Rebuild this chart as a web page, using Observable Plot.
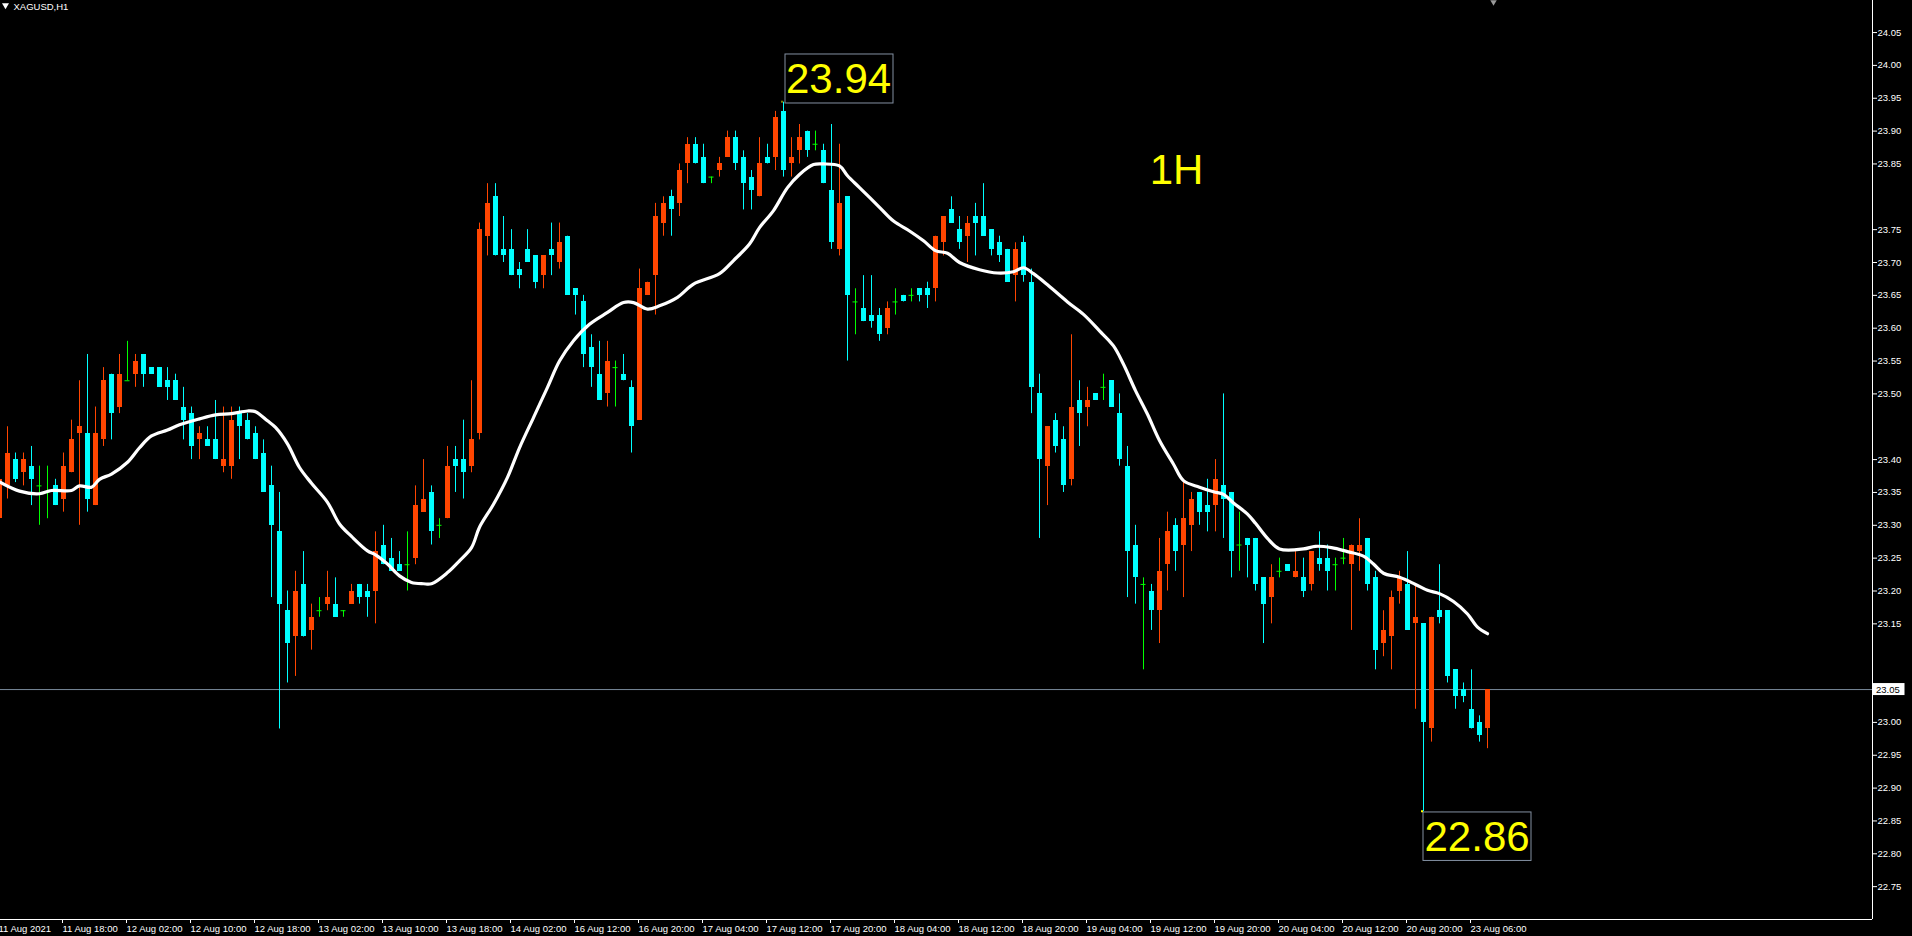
<!DOCTYPE html>
<html><head><meta charset="utf-8">
<script src="https://cdn.jsdelivr.net/npm/d3@7"></script>
<script src="https://cdn.jsdelivr.net/npm/@observablehq/plot@0.6"></script>
<style>
html,body{margin:0;padding:0;background:#000;overflow:hidden;}
#chart svg{display:block;}
</style></head><body><div id="chart"></div>
<script>
// ---- data: hourly XAGUSD bars, index -1 .. 185 ----
const opens = [23.31,
23.36,23.40,23.38,23.39,23.36,23.35,23.36,23.34,23.38,23.44,
23.44,23.33,23.43,23.53,23.48,23.52,23.53,23.56,23.54,23.54,
23.52,23.52,23.48,23.47,23.43,23.43,23.43,23.39,23.39,23.47,
23.46,23.44,23.41,23.36,23.29,23.17,23.13,23.21,23.14,23.17,
23.18,23.18,23.17,23.18,23.21,23.20,23.20,23.27,23.25,23.24,
23.24,23.25,23.32,23.35,23.30,23.31,23.40,23.40,23.39,23.44,
23.74,23.80,23.72,23.72,23.69,23.72,23.71,23.68,23.72,23.70,
23.74,23.66,23.64,23.57,23.53,23.50,23.54,23.53,23.51,23.46,
23.65,23.68,23.76,23.80,23.79,23.85,23.88,23.86,23.83,23.84,
23.86,23.89,23.86,23.83,23.80,23.86,23.86,23.93,23.85,23.87,
23.90,23.88,23.87,23.81,23.72,23.80,23.64,23.63,23.62,23.62,
23.60,23.64,23.65,23.65,23.66,23.66,23.66,23.73,23.78,23.75,
23.74,23.77,23.77,23.75,23.73,23.72,23.68,23.73,23.67,23.50,
23.39,23.46,23.43,23.37,23.49,23.48,23.50,23.51,23.52,23.47,
23.39,23.27,23.21,23.20,23.17,23.24,23.30,23.27,23.30,23.35,
23.33,23.33,23.36,23.35,23.27,23.28,23.28,23.22,23.19,23.23,
23.24,23.22,23.22,23.21,23.25,23.25,23.24,23.25,23.24,23.26,
23.28,23.22,23.12,23.13,23.20,23.21,23.15,23.15,22.99,23.17,
23.17,23.08,23.05,23.02,23.00,22.99];

const highs = [23.43,
23.45,23.41,23.41,23.42,23.39,23.39,23.37,23.41,23.46,23.52,
23.56,23.48,23.54,23.53,23.56,23.58,23.56,23.56,23.54,23.54,
23.54,23.53,23.51,23.48,23.45,23.45,23.49,23.48,23.48,23.48,
23.47,23.45,23.43,23.39,23.35,23.20,23.23,23.26,23.18,23.19,
23.23,23.22,23.17,23.21,23.21,23.21,23.29,23.30,23.28,23.26,
23.29,23.36,23.40,23.36,23.31,23.42,23.42,23.46,23.52,23.76,
23.82,23.82,23.77,23.75,23.70,23.75,23.71,23.71,23.76,23.76,
23.74,23.66,23.65,23.59,23.58,23.58,23.55,23.56,23.52,23.69,
23.67,23.79,23.80,23.81,23.85,23.89,23.89,23.88,23.83,23.86,
23.90,23.90,23.87,23.84,23.89,23.88,23.93,23.944,23.89,23.91,
23.90,23.90,23.88,23.91,23.88,23.80,23.66,23.68,23.68,23.63,
23.64,23.66,23.65,23.66,23.66,23.67,23.74,23.77,23.80,23.77,
23.77,23.79,23.82,23.75,23.74,23.72,23.73,23.74,23.69,23.53,
23.45,23.47,23.45,23.59,23.52,23.51,23.50,23.53,23.52,23.50,
23.42,23.30,23.22,23.21,23.28,23.32,23.31,23.37,23.35,23.35,
23.37,23.40,23.50,23.35,23.32,23.28,23.28,23.22,23.24,23.25,
23.24,23.26,23.25,23.26,23.29,23.27,23.25,23.28,23.27,23.31,
23.28,23.23,23.17,23.20,23.23,23.26,23.21,23.15,23.16,23.24,
23.17,23.08,23.06,23.08,23.01,23.05];

const lows = [23.30,
23.34,23.365,23.36,23.33,23.30,23.31,23.33,23.32,23.38,23.30,
23.32,23.33,23.42,23.43,23.47,23.52,23.51,23.51,23.53,23.51,
23.49,23.49,23.43,23.40,23.40,23.42,23.40,23.38,23.37,23.40,
23.43,23.40,23.35,23.19,22.99,23.06,23.07,23.13,23.11,23.16,
23.17,23.16,23.16,23.18,23.18,23.16,23.15,23.24,23.23,23.23,
23.20,23.24,23.32,23.27,23.28,23.31,23.35,23.34,23.38,23.43,
23.71,23.71,23.70,23.68,23.66,23.70,23.66,23.66,23.68,23.69,
23.65,23.62,23.54,23.51,23.49,23.48,23.48,23.52,23.41,23.46,
23.65,23.62,23.74,23.74,23.77,23.82,23.85,23.82,23.82,23.83,
23.86,23.84,23.78,23.78,23.80,23.85,23.84,23.83,23.83,23.85,
23.86,23.87,23.82,23.72,23.71,23.55,23.59,23.61,23.60,23.58,
23.59,23.62,23.64,23.64,23.64,23.63,23.64,23.71,23.76,23.72,
23.70,23.71,23.74,23.71,23.70,23.67,23.64,23.67,23.47,23.28,
23.33,23.41,23.35,23.36,23.42,23.45,23.49,23.49,23.48,23.39,
23.19,23.18,23.08,23.14,23.12,23.20,23.23,23.19,23.26,23.30,
23.29,23.29,23.28,23.22,23.23,23.22,23.20,23.12,23.15,23.22,
23.23,23.22,23.19,23.20,23.23,23.20,23.20,23.24,23.14,23.23,
23.20,23.08,23.10,23.08,23.18,23.14,23.02,22.864,22.97,23.15,
23.06,23.02,23.03,22.99,22.97,22.96];

const closes = [23.37,
23.41,23.37,23.40,23.37,23.36,23.35,23.33,23.39,23.43,23.45,
23.34,23.44,23.52,23.47,23.53,23.52,23.55,23.53,23.53,23.51,
23.51,23.49,23.46,23.42,23.44,23.42,23.40,23.40,23.46,23.45,
23.43,23.40,23.35,23.30,23.18,23.12,23.20,23.13,23.16,23.17,
23.19,23.16,23.17,23.20,23.19,23.19,23.26,23.24,23.23,23.23,
23.24,23.33,23.34,23.29,23.30,23.39,23.39,23.38,23.43,23.75,
23.79,23.71,23.71,23.68,23.68,23.70,23.67,23.71,23.71,23.73,
23.65,23.65,23.56,23.54,23.49,23.55,23.54,23.52,23.45,23.66,
23.67,23.77,23.79,23.78,23.84,23.88,23.85,23.82,23.83,23.85,
23.89,23.85,23.82,23.81,23.85,23.85,23.92,23.84,23.86,23.89,
23.87,23.88,23.82,23.73,23.79,23.65,23.64,23.61,23.61,23.59,
23.63,23.64,23.64,23.65,23.65,23.65,23.74,23.77,23.76,23.73,
23.76,23.76,23.74,23.72,23.71,23.67,23.72,23.68,23.51,23.40,
23.45,23.42,23.36,23.48,23.47,23.49,23.49,23.51,23.48,23.40,
23.26,23.22,23.21,23.17,23.23,23.29,23.26,23.31,23.34,23.32,
23.32,23.37,23.34,23.26,23.27,23.27,23.21,23.18,23.22,23.23,
23.23,23.23,23.20,23.26,23.24,23.23,23.24,23.25,23.27,23.27,
23.21,23.11,23.14,23.19,23.22,23.14,23.16,23.00,23.16,23.16,
23.07,23.04,23.04,22.99,22.98,23.05];

// moving average line (bar position, value)
const maIdx = [-1,1.5,4,5.5,8,9,10.5,11.5,13,15,
16.5,18,20,21.5,24,26,28,30,31,32.5,
33.5,35,36.5,38,40,41.5,43,45,46,47.5,
49,50.5,52,53,55,56.5,58,59,60.75,62.5,
64,65.75,67.5,69,70.75,72.75,75,77,78.25,80,
81.5,83.75,85.75,89,90.75,92.75,94,95.75,97.5,99,
100.75,102,104,105,106.5,109,110.75,112.75,114.5,116,
117.5,119,121.5,123.75,125.75,127,128.25,130,132.5,134.5,
136.5,138.25,139.5,141,142.5,144,145.75,147,149,150.75,
152,153.25,155,156,157.5,159,162,163.5,165.5,167.5,
169.5,170.75,172,174,176,177.5,179,180.75,182.5,183.75,
185];
const maVal = [23.366,23.352,23.348,23.353,23.353,23.360,23.358,23.370,23.378,23.396,
23.418,23.436,23.445,23.453,23.462,23.468,23.470,23.474,23.473,23.459,
23.449,23.424,23.388,23.364,23.335,23.302,23.283,23.261,23.255,23.241,
23.223,23.213,23.211,23.211,23.228,23.246,23.266,23.297,23.332,23.373,
23.418,23.464,23.510,23.550,23.581,23.606,23.624,23.639,23.639,23.629,
23.634,23.647,23.667,23.683,23.703,23.728,23.753,23.779,23.814,23.834,
23.849,23.850,23.847,23.832,23.814,23.784,23.763,23.748,23.733,23.718,
23.714,23.700,23.689,23.684,23.686,23.692,23.683,23.666,23.640,23.621,
23.596,23.573,23.545,23.505,23.469,23.429,23.393,23.368,23.358,23.351,
23.347,23.334,23.317,23.303,23.280,23.264,23.264,23.268,23.266,23.260,
23.253,23.241,23.227,23.221,23.210,23.201,23.196,23.184,23.165,23.145,
23.135];

// axis ticks
const timeTickIdx = [-1,7,15,23,31,39,47,55,63,71,79,87,95,103,111,119,127,135,143,151,159,167,175,183];
const timeTickLabels = ["11 Aug 2021","11 Aug 18:00","12 Aug 02:00","12 Aug 10:00","12 Aug 18:00","13 Aug 02:00","13 Aug 10:00","13 Aug 18:00","14 Aug 02:00","16 Aug 12:00","16 Aug 20:00","17 Aug 04:00","17 Aug 12:00","17 Aug 20:00","18 Aug 04:00","18 Aug 12:00","18 Aug 20:00","19 Aug 04:00","19 Aug 12:00","19 Aug 20:00","20 Aug 04:00","20 Aug 12:00","20 Aug 20:00","23 Aug 06:00"];
const priceTicks = [24.05,24.00,23.95,23.90,23.85,23.75,23.70,23.65,23.60,23.55,23.50,23.40,23.35,23.30,23.25,23.20,23.15,23.00,22.95,22.90,22.85,22.80,22.75];
const symbolTitle = "XAGUSD,H1";
const frameLabel = "1H";

// ---- build ----
const BULL = "#ff4500", BEAR = "#00ffff", DOJI = "#00ff00";
const candles = opens.map((o, j) => ({k: j - 1, o, h: highs[j], l: lows[j], c: closes[j]}));
const col = d => d.c > d.o ? BULL : d.c < d.o ? BEAR : DOJI;
const bodies = candles.filter(d => d.c !== d.o);
const dojis = candles.filter(d => d.c === d.o);
const ma = maIdx.map((k, j) => ({k, v: maVal[j]}));
const labelMap = new Map(timeTickIdx.map((k, j) => [k, timeTickLabels[j]]));
const last = closes[closes.length - 1];
const hiV = d3.max(highs), loV = d3.min(lows);
const hiPt = [{k: highs.indexOf(hiV) - 1, v: hiV}];
const loPt = [{k: lows.indexOf(loV) - 1, v: loV}];
const lastPt = [{k: candles[candles.length - 1].k}];
const X0 = -0.875, X1 = 233.125;
const Y0 = 22.70, Y1 = 22.70 + 919 / 657;
const BOX = "#8390a2";
const FONT = "'Liberation Sans', Arial, sans-serif";

const chart = Plot.plot({
  width: 1912, height: 936,
  marginLeft: 0, marginRight: 40, marginTop: 0, marginBottom: 17,
  style: {background: "#000", color: "#fff", fontFamily: FONT, fontSize: "9.5px"},
  x: {type: "linear", domain: [X0, X1], label: null},
  y: {type: "linear", domain: [Y0, Y1], label: null},
  marks: [
    Plot.ruleY([last], {stroke: "#778899", strokeWidth: 1}),
    Plot.ruleX(candles, {x: "k", y1: "l", y2: "h", stroke: col, strokeWidth: 1}),
    Plot.rect(bodies, {x1: d => d.k - 0.3125, x2: d => d.k + 0.3125, y1: "o", y2: "c", fill: col, shapeRendering: "crispEdges"}),
    Plot.ruleY(dojis, {y: "o", x1: d => d.k - 0.3125, x2: d => d.k + 0.3125, stroke: DOJI}),
    Plot.line(ma, {x: "k", y: "v", stroke: "#fff", strokeWidth: 3.2, curve: "catmull-rom"}),
    // extremes annotations
    Plot.rect(hiPt, {x1: "k", x2: "k", y1: "v", y2: "v", insetLeft: 2, insetRight: -110, insetTop: -47.7, insetBottom: -1.3, fill: "none", stroke: BOX}),
    Plot.text(hiPt, {x: "k", y: "v", text: d => d.v.toFixed(2), dx: 2.5, dy: -23, textAnchor: "start", lineAnchor: "middle", fill: "#ffff00", fontSize: 42, fontFamily: FONT}),
    Plot.rect(hiPt, {x1: "k", x2: "k", y1: "v", y2: "v", insetLeft: -1.5, insetRight: 0.5, insetTop: -1, insetBottom: -1, fill: "#ffff00"}),
    Plot.rect(loPt, {x1: "k", x2: "k", y1: "v", y2: "v", insetLeft: 0, insetRight: -108, insetTop: 0.7, insetBottom: -49.2, fill: "none", stroke: BOX}),
    Plot.text(loPt, {x: "k", y: "v", text: d => d.v.toFixed(2), dx: 1, dy: 25.3, textAnchor: "start", lineAnchor: "middle", fill: "#ffff00", fontSize: 42, fontFamily: FONT}),
    Plot.rect(loPt, {x1: "k", x2: "k", y1: "v", y2: "v", insetLeft: -2, insetRight: 0, insetTop: -1, insetBottom: -1, fill: "#ffff00"}),
    // timeframe label and symbol title
    Plot.text([frameLabel], {frameAnchor: "top-left", dx: 1176, dy: 170, text: d => d, textAnchor: "middle", lineAnchor: "middle", fill: "#ffff00", fontSize: 42, fontFamily: FONT}),
    Plot.text([symbolTitle], {frameAnchor: "top-left", dx: 13, dy: 6, text: d => d, textAnchor: "start", lineAnchor: "middle", fill: "#fff", fontSize: 9.5}),
    Plot.dot([0], {frameAnchor: "top-left", dx: 5, dy: 4.8, symbol: "triangle", rotate: 180, r: 2.6, fill: "#fff", stroke: "none"}),
    // chart shift marker at top
    Plot.dot(lastPt, {x: "k", frameAnchor: "top", dx: 6, dy: 1.5, symbol: "triangle", rotate: 180, r: 2.4, fill: "#9a9a9a", stroke: "none"}),
    // frame lines
    Plot.ruleY([Y0], {stroke: "#fff"}),
    Plot.ruleX([X1], {stroke: "#fff"}),
    // axes
    Plot.axisY(priceTicks, {anchor: "right", label: null, tickSize: 4, tickPadding: 1, tickFormat: d => d.toFixed(2), color: "#fff", fontSize: 9.5}),
    Plot.axisX(timeTickIdx, {anchor: "bottom", label: null, tickSize: 4, tickPadding: 2, tickFormat: d => labelMap.get(d), textAnchor: "start", dx: -1, color: "#fff", fontSize: 9.5}),
    // current price label
    Plot.rect([last], {x1: () => X1, x2: () => X1, y1: d => d, y2: d => d, insetLeft: 0.5, insetRight: -32.5, insetTop: -6, insetBottom: -6, fill: "#fff"}),
    Plot.text([last], {x: () => X1, y: d => d, text: d => d.toFixed(2), dx: 3.5, textAnchor: "start", fill: "#000", fontSize: 9.5})
  ]
});
document.getElementById("chart").appendChild(chart);
</script>
</body></html>
